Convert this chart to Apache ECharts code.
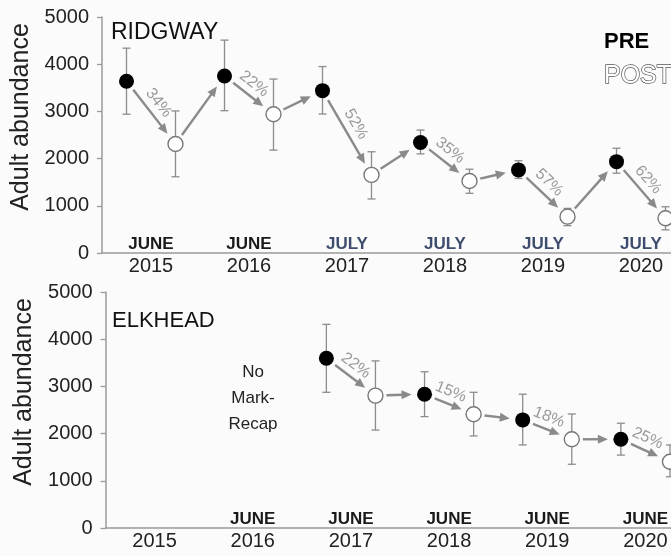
<!DOCTYPE html>
<html>
<head>
<meta charset="utf-8">
<script src="https://cdn.jsdelivr.net/npm/echarts@6/dist/echarts.min.js"></script>
<style>
  html, body { margin: 0; padding: 0; background: #fbfbfb; }
  #chart { width: 671px; height: 556px; }
</style>
</head>
<body>
<div id="chart"></div>
<script>
var years = ['2015', '2016', '2017', '2018', '2019', '2020'];
var yTicks = [0, 1000, 2000, 3000, 4000, 5000];

// Ridgway
var ridgwayMonths = ['JUNE', 'JUNE', 'JULY', 'JULY', 'JULY', 'JULY'];
var ridgwayPre = [3640, 3750, 3440, 2340, 1760, 1935];
var ridgwayPreLow = [2940, 3015, 2945, 2100, 1580, 1690];
var ridgwayPreHigh = [4340, 4510, 3950, 2605, 1955, 2220];
var ridgwayPost = [2310, 2940, 1655, 1525, 770, 735];
var ridgwayPostLow = [1615, 2180, 1145, 1265, 580, 490];
var ridgwayPostHigh = [3010, 3685, 2145, 1775, 945, 980];
var ridgwayDrop = ['34%', '22%', '52%', '35%', '57%', '62%'];

// Elkhead
var elkheadMonths = ['', 'JUNE', 'JUNE', 'JUNE', 'JUNE', 'JUNE'];
var elkheadPre = [null, null, 3595, 2835, 2290, 1880];
var elkheadPreLow = [null, null, 2875, 2360, 1760, 1545];
var elkheadPreHigh = [null, null, 4315, 3310, 2835, 2220];
var elkheadPost = [null, null, 2805, 2410, 1880, 1405];
var elkheadPostLow = [null, null, 2075, 1950, 1350, 1085];
var elkheadPostHigh = [null, null, 3540, 2875, 2415, 1760];
var elkheadDrop = ['', '', '22%', '15%', '18%', '25%'];

var FONT = '"Liberation Sans", Arial, sans-serif';
var AXIS_GRAY = '#9a9a9a';
var ARROW_GRAY = '#8a8a8a';

var myChart = echarts.init(document.getElementById('chart'));

function renderBar(params, api) {
  var x = api.value(0);
  var lo = api.coord([x, api.value(1)]);
  var hi = api.coord([x, api.value(2)]);
  var c = 4;
  var st = { stroke: '#8c8c8c', lineWidth: 1.3 };
  return {
    type: 'group',
    children: [
      { type: 'line', shape: { x1: lo[0], y1: lo[1], x2: hi[0], y2: hi[1] }, style: st },
      { type: 'line', shape: { x1: lo[0] - c, y1: lo[1], x2: lo[0] + c, y2: lo[1] }, style: st },
      { type: 'line', shape: { x1: hi[0] - c, y1: hi[1], x2: hi[0] + c, y2: hi[1] }, style: st }
    ]
  };
}

function makeArrowRenderer(labels) {
  return function (params, api) {
    var p0 = api.coord([api.value(0), api.value(1)]);
    var p1 = api.coord([api.value(2), api.value(3)]);
    var dx = p1[0] - p0[0], dy = p1[1] - p0[1];
    var len = Math.sqrt(dx * dx + dy * dy);
    var ux = dx / len, uy = dy / len;
    var px = uy, py = -ux;
    var s = [p0[0] + ux * 11, p0[1] + uy * 11];
    var e = [p1[0] - ux * 13, p1[1] - uy * 13];
    var head = 10, hw = 4.5;
    var b = [e[0] - ux * head, e[1] - uy * head];
    var children = [
      { type: 'line', shape: { x1: s[0], y1: s[1], x2: b[0] + ux, y2: b[1] + uy },
        style: { stroke: ARROW_GRAY, lineWidth: 2.4 } },
      { type: 'polygon', shape: { points: [e, [b[0] + px * hw, b[1] + py * hw], [b[0] - px * hw, b[1] - py * hw]] },
        style: { fill: ARROW_GRAY } }
    ];
    var txt = labels[params.dataIndex];
    if (txt) {
      var mx = (p0[0] + p1[0]) / 2, my = (p0[1] + p1[1]) / 2;
      children.push({
        type: 'text',
        x: mx + px * 12 - ux * 3,
        y: my + py * 12 - uy * 3,
        rotation: -Math.atan2(dy, dx),
        style: {
          text: txt, align: 'center', verticalAlign: 'middle',
          font: '16px ' + FONT, fill: '#9a9a9a'
        }
      });
    }
    return { type: 'group', children: children };
  };
}

function buildSeries(gridIdx, pre, preLow, preHigh, post, postLow, postHigh, drops) {
  var xIdx = gridIdx * 4;
  var preData = [], postData = [], bars = [], arrows = [], arrowText = [];
  for (var i = 0; i < pre.length; i++) {
    if (pre[i] == null) continue;
    var xPre = 2 * i + 0.5, xPost = 2 * i + 1.5;
    preData.push([xPre, pre[i]]);
    postData.push([xPost, post[i]]);
    bars.push([xPre, preLow[i], preHigh[i]]);
    bars.push([xPost, postLow[i], postHigh[i]]);
    arrows.push([xPre, pre[i], xPost, post[i]]);
    arrowText.push(drops[i]);
    if (i + 1 < pre.length && pre[i + 1] != null) {
      arrows.push([xPost, post[i], 2 * (i + 1) + 0.5, pre[i + 1]]);
      arrowText.push('');
    }
  }
  return [
    {
      type: 'custom', xAxisIndex: xIdx, yAxisIndex: gridIdx,
      renderItem: renderBar, encode: { x: 0, y: [1, 2] }, data: bars, z: 2, silent: true
    },
    {
      type: 'custom', xAxisIndex: xIdx, yAxisIndex: gridIdx,
      renderItem: makeArrowRenderer(arrowText), encode: { x: [0, 2], y: [1, 3] }, data: arrows, z: 3, silent: true
    },
    {
      name: 'PRE', type: 'scatter', xAxisIndex: xIdx, yAxisIndex: gridIdx,
      symbolSize: 15, itemStyle: { color: '#000', opacity: 1 }, data: preData, z: 5
    },
    {
      name: 'POST', type: 'scatter', xAxisIndex: xIdx, yAxisIndex: gridIdx,
      symbolSize: 15, itemStyle: { color: '#fff', borderColor: '#777', borderWidth: 1.4, opacity: 1 },
      data: postData, z: 5
    }
  ];
}

function xAxesFor(gridIdx, months, monthColors) {
  var slots = [];
  years.forEach(function (y) { slots.push(y + ' pre'); slots.push(y + ' post'); });
  return [
    { type: 'value', gridIndex: gridIdx, min: 0, max: 12, show: false },
    {
      type: 'category', gridIndex: gridIdx, position: 'bottom', data: slots, boundaryGap: true,
      axisLine: { lineStyle: { color: AXIS_GRAY, width: 1.5 } },
      axisTick: { alignWithLabel: true, interval: 0, length: 4, lineStyle: { color: AXIS_GRAY, width: 1.3 } },
      axisLabel: { show: false }, splitLine: { show: false }
    },
    {
      type: 'category', gridIndex: gridIdx, position: 'bottom', data: years, boundaryGap: true,
      axisLine: { show: false }, axisTick: { show: false },
      axisLabel: { interval: 0, margin: 3, fontSize: 20, color: '#222', fontFamily: FONT }
    },
    {
      type: 'category', gridIndex: gridIdx, position: 'bottom', data: months, boundaryGap: true,
      axisLine: { show: false }, axisTick: { show: false },
      axisLabel: {
        inside: true, interval: 0, margin: 0, fontSize: 17, fontWeight: 'bold', fontFamily: FONT,
        color: function (v) { return monthColors[v] || '#1a1a1a'; }
      }
    }
  ];
}

function yAxisFor(gridIdx) {
  return {
    type: 'value', gridIndex: gridIdx, min: yTicks[0], max: yTicks[yTicks.length - 1], interval: 1000,
    name: 'Adult abundance', nameLocation: 'middle', nameGap: 62,
    nameTextStyle: { fontSize: 25, color: '#222', fontFamily: FONT, padding: [0, 0, 0, 36] },
    axisLine: { show: true, lineStyle: { color: AXIS_GRAY, width: 1.5 } },
    axisTick: { show: true, length: 5, lineStyle: { color: AXIS_GRAY, width: 1.3 } },
    axisLabel: { margin: 13, fontSize: 20, color: '#222', fontFamily: FONT,
      formatter: function (v) { return String(v); } },
    splitLine: { show: false }
  };
}

var option = {
  backgroundColor: '#fbfbfb',
  animation: false,
  title: [
    { text: 'RIDGWAY', left: 106, top: 16, textStyle: { fontSize: 23, fontWeight: 'normal', color: '#111', fontFamily: FONT } },
    { text: 'ELKHEAD', left: 107, top: 305, textStyle: { fontSize: 22, fontWeight: 'normal', color: '#111', fontFamily: FONT } }
  ],
  legend: {
    orient: 'vertical', left: 594, top: 26, icon: 'none', itemWidth: 0, itemHeight: 10, itemGap: 10,
    selectedMode: false,
    data: [
      { name: 'PRE', textStyle: { fontSize: 22, fontWeight: 'bold', color: '#000', fontFamily: FONT } },
      { name: 'POST', textStyle: { fontSize: 25, fontWeight: 'normal', color: '#fff', textBorderColor: '#555', textBorderWidth: 1.4, fontFamily: FONT } }
    ]
  },
  graphic: [
    {
      type: 'text', x: 253, y: 359,
      style: { text: 'No\nMark-\nRecap', align: 'center', verticalAlign: 'top', font: '17px ' + FONT, lineHeight: 26, fill: '#222' }
    }
  ],
  grid: [
    { left: 102, top: 17, width: 588, height: 236, outerBoundsMode: 'none' },
    { left: 105.5, top: 292, width: 589, height: 236, outerBoundsMode: 'none' }
  ],
  xAxis: xAxesFor(0, ridgwayMonths, { JULY: '#3e4d6d' }).concat(xAxesFor(1, elkheadMonths, {})),
  yAxis: [yAxisFor(0), yAxisFor(1)],
  series: buildSeries(0, ridgwayPre, ridgwayPreLow, ridgwayPreHigh, ridgwayPost, ridgwayPostLow, ridgwayPostHigh, ridgwayDrop)
    .concat(buildSeries(1, elkheadPre, elkheadPreLow, elkheadPreHigh, elkheadPost, elkheadPostLow, elkheadPostHigh, elkheadDrop))
};
myChart.setOption(option);
</script>
</body>
</html>
